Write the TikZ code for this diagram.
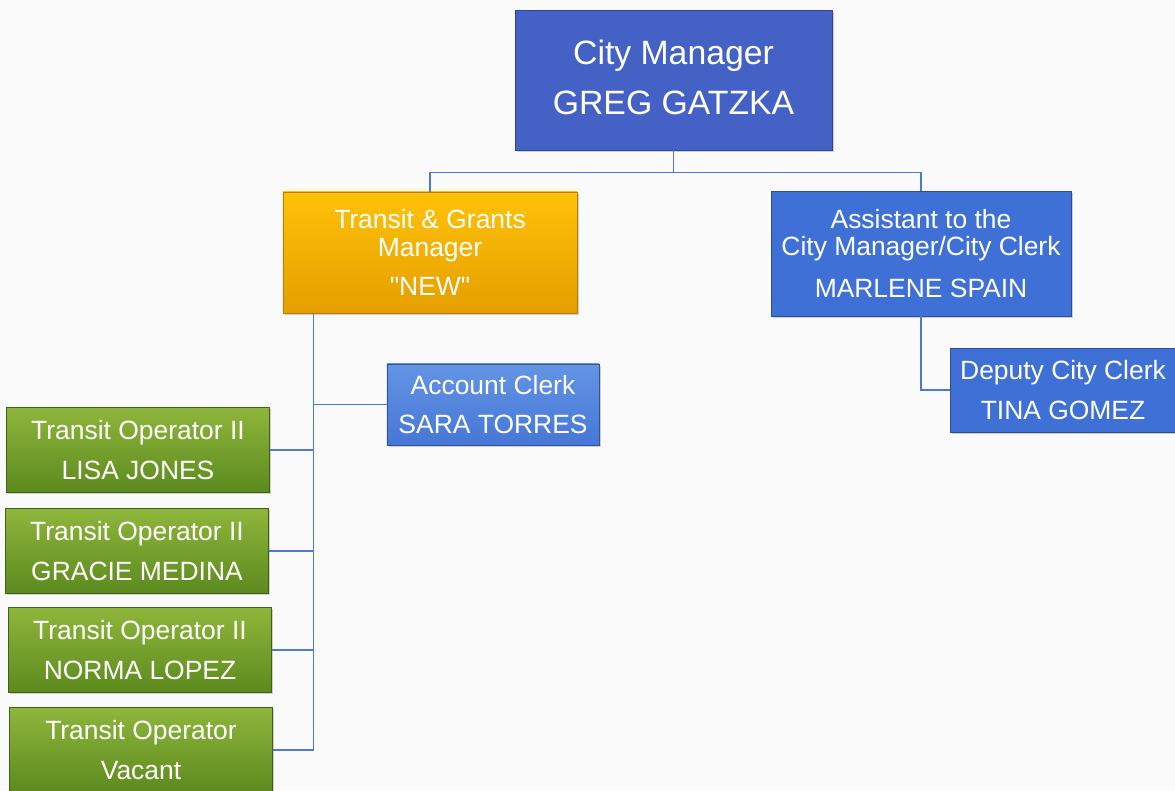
\documentclass[tikz,border=0pt]{standalone}
\usepackage{fontspec}
\setmainfont{Liberation Sans}
\usetikzlibrary{shadows, calc}

\definecolor{bossblue}{HTML}{4462C6}
\definecolor{staffblue}{HTML}{3F70D6}
\definecolor{clerktop}{HTML}{6494E4}
\definecolor{clerkbot}{HTML}{4677D6}
\definecolor{goldtop}{HTML}{FFC207}
\definecolor{goldbot}{HTML}{E59E00}
\definecolor{greentop}{HTML}{8FB63C}
\definecolor{greenbot}{HTML}{5C8A1E}
\definecolor{linkblue}{HTML}{4A7AD2}
\definecolor{paper}{HTML}{FAFAFA}

\begin{document}
\begin{tikzpicture}[x=0.025cm, y=-0.025cm,
    posbox/.style={text=white, align=center, inner sep=0pt, line width=0.6pt,
        font=\fontsize{18.8}{19.8}\selectfont,
        drop shadow={opacity=0.35, shadow xshift=1.2pt, shadow yshift=-1.2pt}},
    boss/.style={posbox, fill=bossblue, draw=bossblue!70!black,
        font=\fontsize{24}{35.5}\selectfont},
    bluebox/.style={posbox, fill=staffblue, draw=staffblue!70!black},
    clerkbox/.style={posbox, top color=clerktop, bottom color=clerkbot, draw=clerkbot!70!black},
    goldbox/.style={posbox, top color=goldtop, bottom color=goldbot, draw=goldbot!80!black},
    greenbox/.style={posbox, top color=greentop, bottom color=greenbot, draw=greenbot!70!black,
        minimum width=6.575cm, minimum height=2.125cm},
    link/.style={draw=linkblue, line width=1pt}]

        \fill[paper] (0,0) rectangle (1175,790);
        \useasboundingbox (0,0) rectangle (1175,790);

        \node[boss, minimum width=7.925cm, minimum height=3.5cm] (cm) at (673.5,80)
            {\raisebox{4pt}{City Manager}\\\raisebox{4pt}{GREG GATZKA}};
        \node[goldbox, minimum width=7.35cm, minimum height=3.025cm] (tgm) at (430,252.5)
            {Transit \& Grants\\Manager\\[8pt]\textquotedbl NEW\textquotedbl};
        \node[bluebox, minimum width=7.5cm, minimum height=3.125cm] (asst) at (921,253.5)
            {Assistant to the\\City Manager/City Clerk\\[10pt]MARLENE SPAIN};
        \node[clerkbox, minimum width=5.3cm, minimum height=2.025cm] (clerk) at (493,404.5)
            {Account Clerk\\[8pt]SARA TORRES};
        \node[bluebox, minimum width=5.65cm, minimum height=2.1cm] (dep) at (1063,390)
            {Deputy City Clerk\\[9pt]TINA GOMEZ};

        \node[greenbox] (op1) at (138,450) {Transit Operator II\\[8pt]LISA JONES};
        \node[greenbox] (op2) at (137,551) {Transit Operator II\\[8pt]GRACIE MEDINA};
        \node[greenbox] (op3) at (140,650) {Transit Operator II\\[8pt]NORMA LOPEZ};
        \node[greenbox] (op4) at (141,750) {Transit Operator\\[8pt]Vacant};

        \draw[link] (cm.south) -- ++(0,22) -| (tgm.north);
        \draw[link] (cm.south) -- ++(0,22) -| (asst.north);

        \coordinate (trunk) at ($(tgm.south west)+(31,0)$);
        \draw[link] (trunk) |- (op4.east);
        \draw[link] (clerk.west) -- (clerk.west -| trunk);
        \draw[link] (op1.east) -- (op1.east -| trunk);
        \draw[link] (op2.east) -- (op2.east -| trunk);
        \draw[link] (op3.east) -- (op3.east -| trunk);

        \draw[link] (asst.south) |- (dep.west);

    \end{tikzpicture}
\end{document}
